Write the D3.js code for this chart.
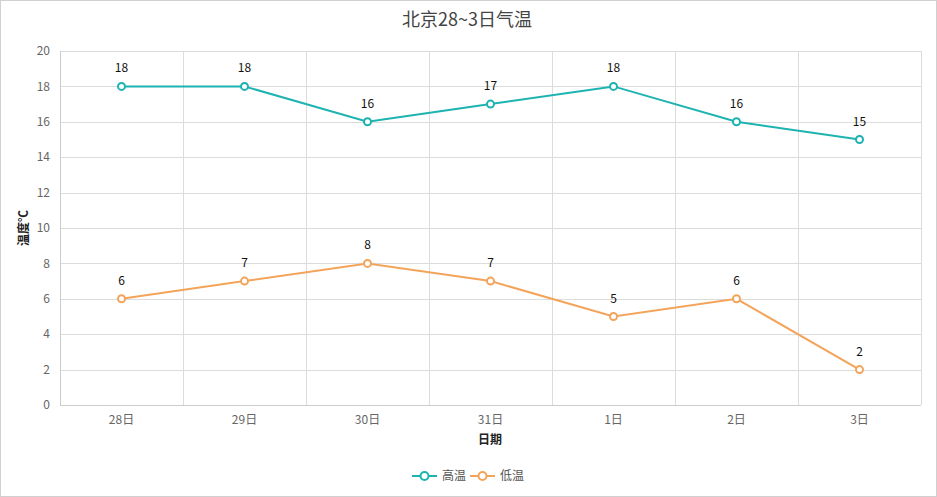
<!DOCTYPE html>
<html><head><meta charset="utf-8">
<script src="https://cdn.jsdelivr.net/npm/d3@7"></script>
<style>
html,body{margin:0;padding:0;background:#fff;}
svg{display:block;font-family:"Microsoft YaHei","Noto Sans CJK SC",sans-serif;}
</style></head>
<body><svg id="c" width="937" height="497"></svg>
<script>
const categories = ["28日","29日","30日","31日","1日","2日","3日"];
const highTemps = [18,18,16,17,18,16,15];
const lowTemps = [6,7,8,7,5,6,2];
const yTicks = [0,2,4,6,8,10,12,14,16,18,20];
const seriesNames = ["高温","低温"];
const colors = ["#1cb3b1","#f4a45a"];

const W=937,H=497;
const m={left:60,right:16,top:51,bottom:92};
const svg=d3.select("#c");
svg.append("rect").attr("x",0.5).attr("y",0.5).attr("width",W-1).attr("height",H-1)
  .attr("fill","#fff").attr("stroke","#d0d0d0");

const x=d3.scaleBand().domain(categories).range([m.left,W-m.right]);
const y=d3.scaleLinear().domain([0,20]).range([H-m.bottom,m.top]);

const g=svg.append("g");
g.selectAll(".hg").data(yTicks).join("line")
  .attr("x1",m.left).attr("x2",W-m.right)
  .attr("y1",d=>Math.round(y(d))+0.5).attr("y2",d=>Math.round(y(d))+0.5)
  .attr("stroke","#dcdcdc");
const bounds=categories.map(c=>x(c)).concat([x.range()[1]]);
g.selectAll(".vg").data(bounds).join("line")
  .attr("x1",d=>Math.round(d)+0.5).attr("x2",d=>Math.round(d)+0.5)
  .attr("y1",m.top).attr("y2",H-m.bottom)
  .attr("stroke","#dcdcdc");
g.append("line").attr("x1",m.left+0.5).attr("x2",m.left+0.5).attr("y1",m.top).attr("y2",H-m.bottom).attr("stroke","#cccccc");
g.append("line").attr("x1",m.left).attr("x2",W-m.right).attr("y1",Math.round(y(0))+0.5).attr("y2",Math.round(y(0))+0.5).attr("stroke","#cccccc");

g.selectAll(".yl").data(yTicks).join("text")
  .attr("x",m.left-10).attr("y",d=>y(d)).attr("dy","0.35em")
  .attr("text-anchor","end").attr("font-size",12).attr("fill","#666")
  .text(d=>d);
g.selectAll(".xl").data(categories).join("text")
  .attr("x",d=>x(d)+x.bandwidth()/2).attr("y",H-m.bottom+19)
  .attr("text-anchor","middle").attr("font-size",12).attr("fill","#666")
  .text(d=>d);

svg.append("text").attr("x",467).attr("y",26).attr("text-anchor","middle")
  .attr("font-size",18).attr("fill","#444").text("北京28~3日气温");
svg.append("text").attr("x",490).attr("y",444).attr("text-anchor","middle")
  .attr("font-size",12).attr("font-weight","bold").attr("fill","#222").text("日期");
svg.append("text").attr("transform","translate(28,228) rotate(-90)").attr("text-anchor","middle")
  .attr("font-size",12).attr("font-weight","bold").attr("fill","#222").text("温度℃");

const cx=d=>x(d)+x.bandwidth()/2;
const line=d3.line().x((d,i)=>cx(categories[i])).y(d=>y(d));
[highTemps,lowTemps].forEach((data,k)=>{
  const s=svg.append("g");
  s.append("path").datum(data).attr("d",line).attr("fill","none")
    .attr("stroke",colors[k]).attr("stroke-width",2);
  s.selectAll("circle").data(data).join("circle")
    .attr("cx",(d,i)=>cx(categories[i])).attr("cy",d=>y(d)).attr("r",3.5)
    .attr("fill","#fff").attr("stroke",colors[k]).attr("stroke-width",2);
  s.selectAll("text").data(data).join("text")
    .attr("x",(d,i)=>cx(categories[i])).attr("y",d=>y(d)-14)
    .attr("text-anchor","middle").attr("font-size",12).attr("fill","#111")
    .text(d=>d);
});

const lg=svg.append("g");
const lx=[412,470];
seriesNames.forEach((n,k)=>{
  const gg=lg.append("g").attr("transform",`translate(${lx[k]},476)`);
  gg.append("line").attr("x1",0).attr("x2",25).attr("y1",0).attr("y2",0).attr("stroke",colors[k]).attr("stroke-width",2);
  gg.append("circle").attr("cx",12.5).attr("cy",0).attr("r",4).attr("fill","#fff").attr("stroke",colors[k]).attr("stroke-width",2);
  gg.append("text").attr("x",30).attr("y",0).attr("dy","0.35em").attr("font-size",12).attr("fill","#555").text(n);
});
</script></body></html>
